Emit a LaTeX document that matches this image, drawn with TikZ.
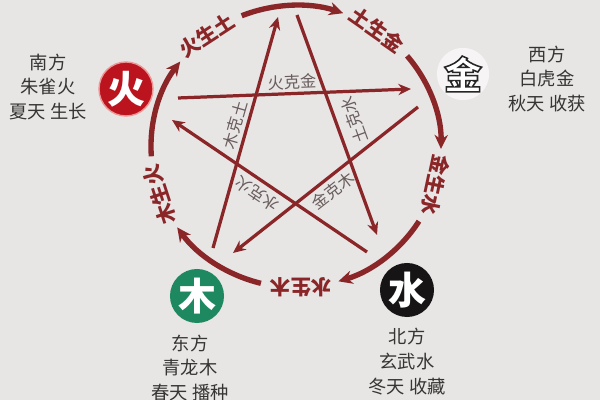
\documentclass[tikz,border=0pt]{standalone}
\usepackage{fontspec}
\newfontfamily\cjk{Noto Sans CJK SC}
\usetikzlibrary{calc, arrows.meta}

\definecolor{bgcol}{RGB}{232,229,229}
\definecolor{wxred}{RGB}{138,38,40}
\definecolor{kegray}{RGB}{105,92,92}
\definecolor{desccol}{RGB}{55,52,52}
\definecolor{huored}{RGB}{188,20,30}
\definecolor{huoedge}{RGB}{236,150,150}
\definecolor{jinfill}{RGB}{246,244,244}
\definecolor{mugreen}{RGB}{30,136,96}
\definecolor{shuiblack}{RGB}{22,20,20}

% outlined glyph: white fill, dark stroke
\newcommand\outlined[1]{\special{pdf:literal direct 2 Tr 1.1 w 0.15 G}#1\special{pdf:literal direct 0 Tr}}

\begin{document}
\begin{tikzpicture}[x=0.025cm, y=0.025cm,
  ring/.style={wxred, line width=3.8pt, -{Stealth[length=10pt,width=9.5pt]}},
  kline/.style={wxred, line width=2.3pt, -{Stealth[length=9pt,width=8pt]}},
  sheng/.style={text=wxred, font=\cjk\bfseries\fontsize{14.5}{14.5}\selectfont},
  ke/.style={text=kegray, font=\cjk\fontsize{11.5}{11.5}\selectfont},
  elem/.style={circle, minimum size=1.35cm, inner sep=0pt, font=\cjk\bfseries\fontsize{27}{27}\selectfont},
  desc/.style={text=desccol, align=center, font=\cjk\fontsize{13}{17.5}\selectfont}]
% Background
\fill[bgcol] (0,0) rectangle (600,400);
\useasboundingbox (0,0) rectangle (600,400);
% Centre of the ring
\coordinate (O) at (296,253.5);
% Outer ring, sheng cycle
\coordinate (s1) at ($(O)+(184:145 and 141)$);
\draw[ring] (s1) arc[start angle=184, end angle=143, x radius=145, y radius=141];
\coordinate (s2) at ($(O)+(112:145 and 141)$);
\draw[ring] (s2) arc[start angle=112, end angle=71, x radius=145, y radius=141];
\coordinate (s3) at ($(O)+(40:145 and 141)$);
\draw[ring] (s3) arc[start angle=40, end angle=-1, x radius=145, y radius=141];
\coordinate (s4) at ($(O)+(-32:145 and 141)$);
\draw[ring] (s4) arc[start angle=-32, end angle=-73, x radius=145, y radius=141];
\coordinate (s5) at ($(O)+(-104:145 and 141)$);
\draw[ring] (s5) arc[start angle=-104, end angle=-145, x radius=145, y radius=141];
% Labels in the gaps of the ring
\node (huoshengtu) [sheng, rotate=33] at ($(O)+(128:145 and 141)$) {火生土};
\node (tushengjin) [sheng, rotate=-35] at ($(O)+(56:145 and 141)$) {土生金};
\node (jinshengshui) [sheng, rotate=-102] at ($(O)+(-16:145 and 141)$) {金生水};
\node (shuishengmu) [sheng, rotate=180] at ($(O)+(-88:145 and 141)$) {水生木};
\node (mushenghuo) [sheng, rotate=108] at ($(O)+(-160:145 and 141)$) {木生火};
% Star, ke cycle
\coordinate (ke1a) at (213,152);
\coordinate (ke1b) at (278,383);
\draw[kline] (ke1a) -- (ke1b);
\coordinate (ke2a) at (297,385);
\coordinate (ke2b) at (377,165);
\draw[kline] (ke2a) -- (ke2b);
\coordinate (ke3a) at (178,302);
\coordinate (ke3b) at (411,311);
\draw[kline] (ke3a) -- (ke3b);
\coordinate (ke4a) at (418,293);
\coordinate (ke4b) at (233,147);
\draw[kline] (ke4a) -- (ke4b);
\coordinate (ke5a) at (367,148);
\coordinate (ke5b) at (172,280);
\draw[kline] (ke5a) -- (ke5b);
% Labels on the star
\node (muketu) [ke, rotate=74] at (235,275) {木克土};
\node (tukeshui) [ke, rotate=110] at (354,280) {土克水};
\node (huokejin) [ke, rotate=2] at (292,318) {火克金};
\node (shuikehuo) [ke, rotate=146] at (257,206) {水克火};
\node (jinkemu) [ke, rotate=38] at (333,209) {金克木};
% The five elements
\node (huo) [elem, fill=huored, draw=huoedge, line width=1pt, text=white] at (126,311) {火};
\node (jin) [elem, minimum size=1.25cm, fill=jinfill, text=white] at (463,326) {\outlined{金}};
\node (shui) [elem, fill=shuiblack, text=white] at (407,110) {水};
\node (mu) [elem, fill=mugreen, text=white] at (197,104) {木};
% Directions and seasons
\node (nanfang) [desc] at (48,313) {南方\\朱雀火\\夏天 生长};
\node (xifang) [desc] at (547,321) {西方\\白虎金\\秋天 收获};
\node (dongfang) [desc] at (190,32) {东方\\青龙木\\春天 播种};
\node (beifang) [desc] at (407,38.5) {北方\\玄武水\\冬天 收藏};
\end{tikzpicture}
\end{document}
